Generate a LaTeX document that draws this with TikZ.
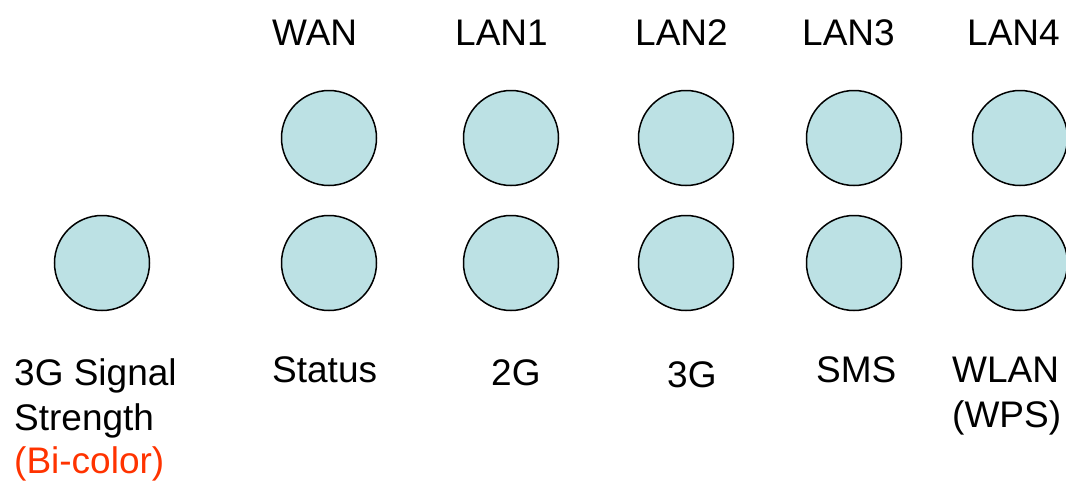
\documentclass[tikz,border=0pt]{standalone}
\usepackage{fontspec}
\setmainfont{Liberation Sans}
\definecolor{ledfill}{RGB}{188,225,228}
\definecolor{notered}{RGB}{255,51,0}
\begin{document}
\begin{tikzpicture}[x=1pt,y=-1pt,
  led/.style={circle,draw=black,line width=1.5pt,fill=ledfill,minimum size=95pt,inner sep=0pt},
  lbl/.style={anchor=base west,inner sep=0pt,font=\fontsize{37}{45}\selectfont}]
\useasboundingbox (0,0) rectangle (1066,485);
% port labels above the LED rows
\node[lbl] (twan)  at (272,45) {WAN};
\node[lbl] (tlan1) at (455,45) {LAN1};
\node[lbl] (tlan2) at (635,45) {LAN2};
\node[lbl] (tlan3) at (802,45) {LAN3};
\node[lbl] (tlan4) at (967,45) {LAN4};
% upper row of LEDs
\node[led] (u1) at (329,138) {};
\node[led] (u2) at (511,138) {};
\node[led] (u3) at (686,138) {};
\node[led] (u4) at (854,138) {};
\node[led] (u5) at (1020,138) {};
% lower row of LEDs
\node[led] (sig) at (102,263) {};
\node[led] (l1) at (329,263) {};
\node[led] (l2) at (511,263) {};
\node[led] (l3) at (686,263) {};
\node[led] (l4) at (854,263) {};
\node[led] (l5) at (1020,263) {};
% function labels below
\node[lbl] (bsig1) at (14,385) {3G Signal};
\node[lbl] (bsig2) at (14,430) {Strength};
\node[lbl,text=notered] (bsig3) at (14,473) {(Bi-color)};
\node[lbl] (bstat) at (272,382) {Status};
\node[lbl] (b2g)   at (491,385) {2G};
\node[lbl] (b3g)   at (667,387) {3G};
\node[lbl] (bsms)  at (816,382) {SMS};
\node[lbl] (bwlan1) at (952,382) {WLAN};
\node[lbl] (bwlan2) at (952,427) {(WPS)};
\end{tikzpicture}
\end{document}
